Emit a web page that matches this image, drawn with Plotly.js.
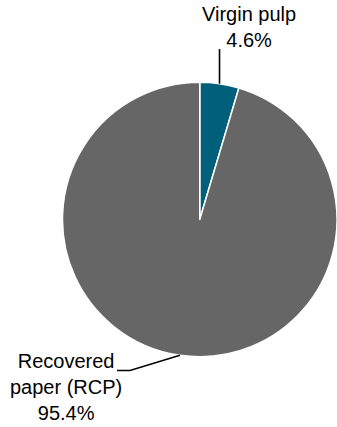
<!DOCTYPE html>
<html>
<head>
<meta charset="utf-8">
<script src="https://cdn.plot.ly/plotly-3.0.1.min.js"></script>
<style>
html,body{margin:0;padding:0;background:#fff;overflow:hidden;}
#chart{width:337px;height:427px;}
</style>
</head>
<body>
<div id="chart"></div>
<script>
// ---- data ----
const labels = ['Virgin pulp', 'Recovered paper (RCP)'];
const displayLabels = ['Virgin pulp', 'Recovered<br>paper (RCP)'];
const values = [4.6, 95.4];
const colors = ['#005f7b', '#666666'];

// ---- layout constants ----
const W = 337, H = 427;
const domX = [62.5 / W, 1];
const domY = [(H - 358) / H, (H - 81) / H];

// pie geometry in px (plotly: radius = min(domain w,h)/2, centered in domain)
const dw = (domX[1] - domX[0]) * W, dh = (domY[1] - domY[0]) * H;
const R = Math.min(dw, dh) / 2;
const cx = (domX[0] + domX[1]) / 2 * W;
const cy = H - (domY[0] + domY[1]) / 2 * H;
const px = x => x / W;
const py = y => 1 - y / H;

const total = values.reduce((a, b) => a + b, 0);
let cum = 0;
const edges = values.map(v => {
  const mid = (cum + v / 2) / total * 2 * Math.PI;
  cum += v;
  return { x: cx + R * Math.sin(mid), y: cy - R * Math.cos(mid) };
});

// leader lines (offsets are styling)
const e0 = edges[0], e1 = edges[1];
const shapes = [
  { type: 'path', xref: 'paper', yref: 'paper',
    path: `M ${px(e0.x)} ${py(e0.y)} L ${px(e0.x)} ${py(49)}`,
    line: { color: '#000', width: 1.6 } },
  { type: 'path', xref: 'paper', yref: 'paper',
    path: `M ${px(e1.x)} ${py(e1.y)} L ${px(130)} ${py(370.5)} L ${px(117)} ${py(370.5)}`,
    line: { color: '#000', width: 1.6 } }
];

const txt = i => displayLabels[i] + '<br>' + values[i].toFixed(1) + '%';
const annotations = [
  { text: txt(0), xref: 'paper', yref: 'paper', x: px(249), y: py(27),
    xanchor: 'center', yanchor: 'middle', showarrow: false, align: 'center' },
  { text: txt(1), xref: 'paper', yref: 'paper', x: px(66), y: py(426),
    xanchor: 'center', yanchor: 'bottom', showarrow: false, align: 'center' }
];

const trace = {
  type: 'pie',
  labels: labels,
  values: values,
  sort: false,
  direction: 'clockwise',
  rotation: 0,
  textinfo: 'none',
  hoverinfo: 'label+percent',
  marker: { colors: colors, line: { color: '#ffffff', width: 1.5 } },
  domain: { x: domX, y: domY },
  showlegend: false
};

const layout = {
  width: W, height: H,
  margin: { l: 0, r: 0, t: 0, b: 0, pad: 0 },
  paper_bgcolor: '#ffffff',
  font: { family: 'Liberation Sans, Arial, sans-serif', size: 20, color: '#000' },
  showlegend: false,
  shapes: shapes,
  annotations: annotations
};

Plotly.newPlot('chart', [trace], layout, { staticPlot: true, displayModeBar: false });
</script>
</body>
</html>
